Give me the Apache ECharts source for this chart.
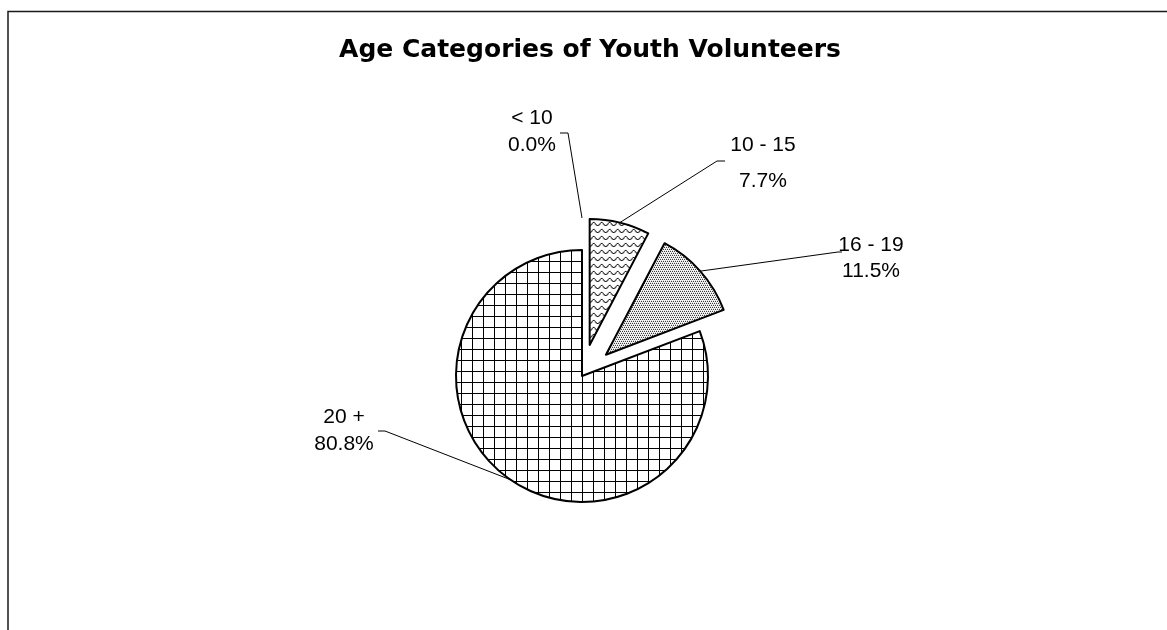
<!DOCTYPE html>
<html>
<head>
<meta charset="utf-8">
<script src="https://cdn.jsdelivr.net/npm/echarts@6/dist/echarts.min.js"></script>
<style>
  html, body { margin: 0; padding: 0; background: #fff; }
  #chart { width: 1167px; height: 630px; }
</style>
</head>
<body>
<div id="chart"></div>
<script>
// Age groups and their share of the volunteers (percent)
const ageGroups = ['< 10', '10 - 15', '16 - 19', '20 +'];
const sharePercent = [0.0, 7.7, 11.5, 80.8];
const pulledOut = [true, true, true, false];

// Pie geometry
const PIE_CENTER = [582, 376];
const PIE_RADIUS = 126;
const PULL_DISTANCE = 32;

// Where each label sits (text centre) and the leader's two points beside the text
const labelSpots = [
  { x: 532, y: 132, lineHeight: 27, bend: [568, 133], end: [560, 133] },
  { x: 763, y: 163, lineHeight: 36, bend: [717, 161], end: [725, 161] },
  { x: 871, y: 258, lineHeight: 26, bend: [838, 252], end: [842, 252] },
  { x: 344, y: 431, lineHeight: 27, bend: [385, 431], end: [378, 431] }
];

// Monochrome fill patterns, one per slice
function makeTile(w, h, draw) {
  const c = document.createElement('canvas');
  c.width = w; c.height = h;
  const g = c.getContext('2d');
  g.fillStyle = '#fff';
  g.fillRect(0, 0, w, h);
  draw(g);
  return c;
}
const waveTile = makeTile(8, 7, g => {
  g.fillStyle = '#111';
  [[0, 2], [1, 1], [2, 1], [3, 2], [4, 3], [5, 4], [6, 4], [7, 3]].forEach(([x, y]) => g.fillRect(x, y, 1, 1));
  g.fillStyle = '#999';
  [[0, 3], [3, 3], [4, 4], [7, 4]].forEach(([x, y]) => g.fillRect(x, y, 1, 1));
});
const dotTile = makeTile(4, 4, g => {
  g.fillStyle = '#000';
  [[0, 0], [2, 0], [1, 2], [3, 2]].forEach(([x, y]) => g.fillRect(x, y, 1, 1));
});
const gridTile = makeTile(11, 11, g => {
  g.fillStyle = '#000';
  g.fillRect(10, 0, 1, 11);
  g.fillRect(0, 8, 11, 1);
});
const sliceFills = [waveTile, waveTile, dotTile, gridTile].map(t => ({ image: t, repeat: 'repeat' }));

// Drawn slices (the younger groups are pulled out of the pie)
const sliceData = ageGroups.map((name, i) => {
  const style = {
    color: sliceFills[i],
    borderColor: '#000',
    borderWidth: sharePercent[i] === 0 ? 0 : 2
  };
  return {
    name: name,
    value: sharePercent[i],
    selected: pulledOut[i],
    itemStyle: style,
    select: { itemStyle: style }
  };
});

// Label carrier: same slices, unfilled, so the labels keep their own placement
const labelData = ageGroups.map((name, i) => ({
  name: name,
  value: sharePercent[i],
  label: { lineHeight: labelSpots[i].lineHeight }
}));

const chart = echarts.init(document.getElementById('chart'), null, { renderer: 'canvas' });
chart.setOption({
  backgroundColor: '#fff',
  animation: false,
  title: {
    text: 'Age Categories of Youth Volunteers',
    left: 590,
    top: 38,
    padding: 0,
    textAlign: 'center',
    textStyle: {
      fontFamily: 'DejaVu Sans',
      fontWeight: 'bold',
      fontSize: 25,
      color: '#000'
    }
  },
  graphic: [{
    type: 'rect',
    shape: { x: 8, y: 11.5, width: 1300, height: 800 },
    style: { fill: 'none', stroke: '#1a1a1a', lineWidth: 1.5 },
    silent: true
  }],
  series: [{
    type: 'pie',
    center: PIE_CENTER,
    radius: PIE_RADIUS,
    startAngle: 90,
    clockwise: true,
    selectedMode: 'multiple',
    selectedOffset: PULL_DISTANCE,
    avoidLabelOverlap: false,
    stillShowZeroSum: true,
    emphasis: { disabled: true },
    label: { show: false },
    labelLine: { show: false },
    data: sliceData
  }, {
    type: 'pie',
    center: PIE_CENTER,
    radius: PIE_RADIUS,
    startAngle: 90,
    clockwise: true,
    silent: true,
    avoidLabelOverlap: false,
    stillShowZeroSum: true,
    emphasis: { disabled: true },
    itemStyle: { color: 'rgba(0,0,0,0)', borderWidth: 0 },
    label: {
      show: true,
      position: 'outside',
      color: '#000',
      fontFamily: 'Arial',
      fontSize: 21,
      lineHeight: 27,
      align: 'center',
      formatter: p => p.name + '\n' + p.value.toFixed(1) + '%'
    },
    labelLine: {
      show: true,
      length: 20,
      length2: 10,
      lineStyle: { color: '#000', width: 1 }
    },
    labelLayout: p => {
      const s = labelSpots[p.dataIndex];
      let start = s.bend;
      if (p.labelLinePoints) {
        // leader starts on the slice's outer edge, pulled out with the slice when needed
        const pt = p.labelLinePoints[0];
        const vx = pt[0] - PIE_CENTER[0];
        const vy = pt[1] - PIE_CENTER[1];
        const len = Math.hypot(vx, vy) || 1;
        const r = PIE_RADIUS + (pulledOut[p.dataIndex] ? PULL_DISTANCE : 0);
        start = [PIE_CENTER[0] + vx / len * r, PIE_CENTER[1] + vy / len * r];
      }
      return {
        x: s.x,
        y: s.y,
        align: 'center',
        verticalAlign: 'middle',
        labelLinePoints: [start, s.bend, s.end]
      };
    },
    data: labelData
  }]
});
</script>
</body>
</html>
